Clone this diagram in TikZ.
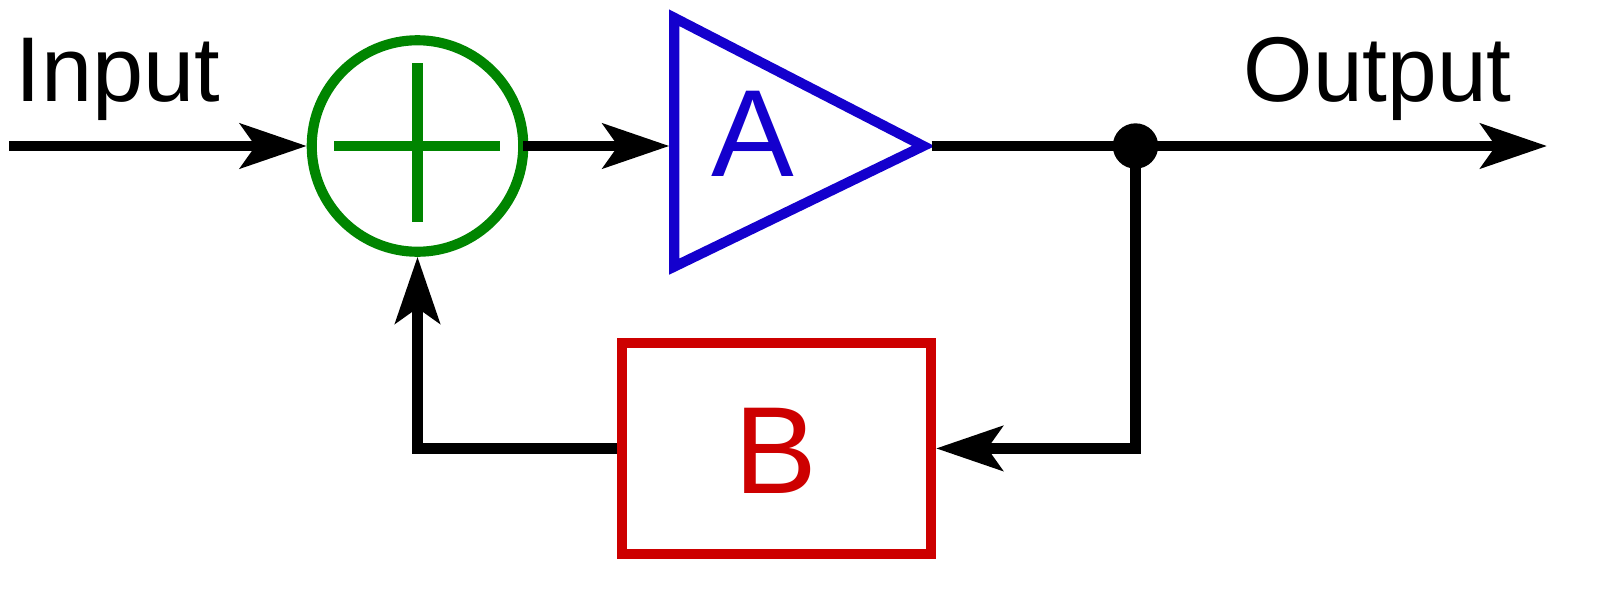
\documentclass[tikz,border=0pt]{standalone}
\usepackage{fontspec}
\setmainfont{Liberation Sans}
\usetikzlibrary{arrows.meta}
\definecolor{sumgreen}{RGB}{0,133,0}
\definecolor{ampblue}{RGB}{20,0,205}
\definecolor{fbred}{RGB}{205,0,0}
\tikzset{
  wire/.style={line width=7.7pt,black,line join=miter,-{Stealth[length=49.9pt,width=33.5pt,inset=11.5pt]}},
  stroke/.style={line width=7.6pt},
  biglabel/.style={inner sep=0pt,anchor=base,font=\fontsize{93}{93}\selectfont},
  iolabel/.style={inner sep=0pt,anchor=base west,font=\fontsize{69}{69}\selectfont}
}
\begin{document}
\begin{tikzpicture}[x=0.75pt,y=-0.75pt]
\useasboundingbox (0,0) rectangle (1602,604);
\coordinate (inS) at (9,146);
\coordinate (sumOut) at (523,146);
\coordinate (ampIn) at (669.3,146);
\coordinate (ampOut) at (931.5,146);
\coordinate (outE) at (1547,146);
\node[circle,draw=sumgreen,stroke,minimum size=211.5*0.75pt,inner sep=0pt] (sum) at (417.5,146) {};
\draw[sumgreen,stroke] (334,146) -- (500,146);
\draw[sumgreen,stroke] (417.5,63) -- (417.5,222);
\draw[ampblue,stroke,miter limit=10] (674.3,17.8) -- (923.3,146) -- (674.3,266.6) -- cycle;
\node[text=ampblue,biglabel] (a) at (752.5,176) {A};
\node[draw=fbred,stroke,minimum width=309.2*0.75pt,minimum height=211.5*0.75pt,inner sep=0pt] (b) at (776.5,448.4) {};
\node[text=fbred,biglabel] (bt) at (775.6,493.3) {B};
\node[circle,fill=black,minimum size=45.4*0.75pt,inner sep=0pt] (dot) at (1135.5,146) {};
\draw[wire] (inS) -- (sum.west);
\draw[wire] (sumOut) -- (ampIn);
\draw[wire] (ampOut) -- (outE);
\draw[wire] (dot.center) |- (b.east);
\draw[wire] (b.west) -| (sum.south);
\node[iolabel] (inp) at (15.5,101) {Input};
\node[iolabel,xscale=0.97,transform shape] (outp) at (1243.5,101) {Output};
\end{tikzpicture}
\end{document}
